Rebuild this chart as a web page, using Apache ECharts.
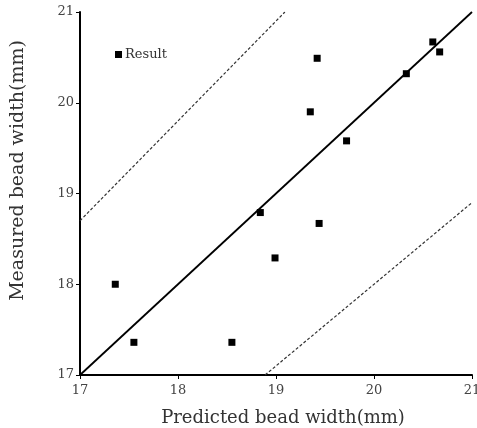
<!DOCTYPE html>
<html>
<head>
<meta charset="utf-8">
<script src="https://cdn.jsdelivr.net/npm/echarts@6/dist/echarts.min.js"></script>
<style>html,body{margin:0;padding:0;background:#fff}#c{width:477px;height:428px}</style>
</head>
<body>
<div id="c"></div>
<script>
const predicted = [17.36, 17.55, 18.55, 18.84, 18.99, 19.44, 19.35, 19.42, 19.72, 20.33, 20.60, 20.67];
const measured  = [18.00, 17.36, 17.36, 18.79, 18.29, 18.67, 19.90, 20.49, 19.58, 20.32, 20.67, 20.56];
const idealLine = [[17, 17], [21, 21]];
const upperLine = [[17, 18.7], [19.0909, 21]];
const lowerLine = [[18.8889, 17], [21, 18.9]];
const xTicks = [17, 18, 19, 20, 21];
const yTicks = [17, 18, 19, 20, 21];

const font = 'DejaVu Serif';
const chart = echarts.init(document.getElementById('c'));
chart.setOption({
  animation: false,
  backgroundColor: '#fff',
  textStyle: { fontFamily: font },
  grid: { left: 80, right: 5, top: 12, bottom: 53, containLabel: false, outerBoundsMode: 'none' },
  legend: {
    left: 110, top: 43,
    itemWidth: 7, itemHeight: 7, itemGap: 4,
    data: [{ name: 'Result', icon: 'rect' }],
    itemStyle: { opacity: 1 },
    textStyle: { fontFamily: font, fontSize: 13, color: '#333', padding: [0, 0, 0, -2] }
  },
  xAxis: {
    type: 'value', min: xTicks[0], max: xTicks[xTicks.length - 1], interval: 1,
    name: 'Predicted bead width(mm)', nameLocation: 'middle', nameGap: 34,
    nameTextStyle: { fontFamily: font, fontSize: 18, color: '#333', padding: [0, 0, 0, 14] },
    axisLine: { lineStyle: { color: '#000', width: 2 } },
    axisTick: { show: true, length: 4, lineStyle: { color: '#000' } },
    axisLabel: { fontFamily: font, fontSize: 13, color: '#444', margin: 9 },
    splitLine: { show: false }
  },
  yAxis: {
    type: 'value', min: yTicks[0], max: yTicks[yTicks.length - 1], interval: 1,
    name: 'Measured bead width(mm)', nameLocation: 'middle', nameGap: 52,
    nameTextStyle: { fontFamily: font, fontSize: 19, color: '#333', padding: [0, 0, 0, 46] },
    axisLine: { show: true, lineStyle: { color: '#000', width: 2 } },
    axisTick: { show: true, length: 4, lineStyle: { color: '#000' } },
    axisLabel: { fontFamily: font, fontSize: 13, color: '#444', margin: 6 },
    splitLine: { show: false }
  },
  series: [
    {
      name: 'Ideal', type: 'line', data: idealLine, symbol: 'none', silent: true,
      lineStyle: { color: '#000', width: 1.8 }, z: 2
    },
    {
      name: 'Upper', type: 'line', data: upperLine, symbol: 'none', silent: true,
      lineStyle: { color: '#333', width: 1.2, type: [3, 2] }, z: 2
    },
    {
      name: 'Lower', type: 'line', data: lowerLine, symbol: 'none', silent: true,
      lineStyle: { color: '#333', width: 1.2, type: [3, 2] }, z: 2
    },
    {
      name: 'Result', type: 'scatter', symbol: 'rect', symbolSize: 7,
      itemStyle: { color: '#000', opacity: 1 }, z: 3,
      data: predicted.map((x, i) => [x, measured[i]])
    }
  ]
});
</script>
</body>
</html>
